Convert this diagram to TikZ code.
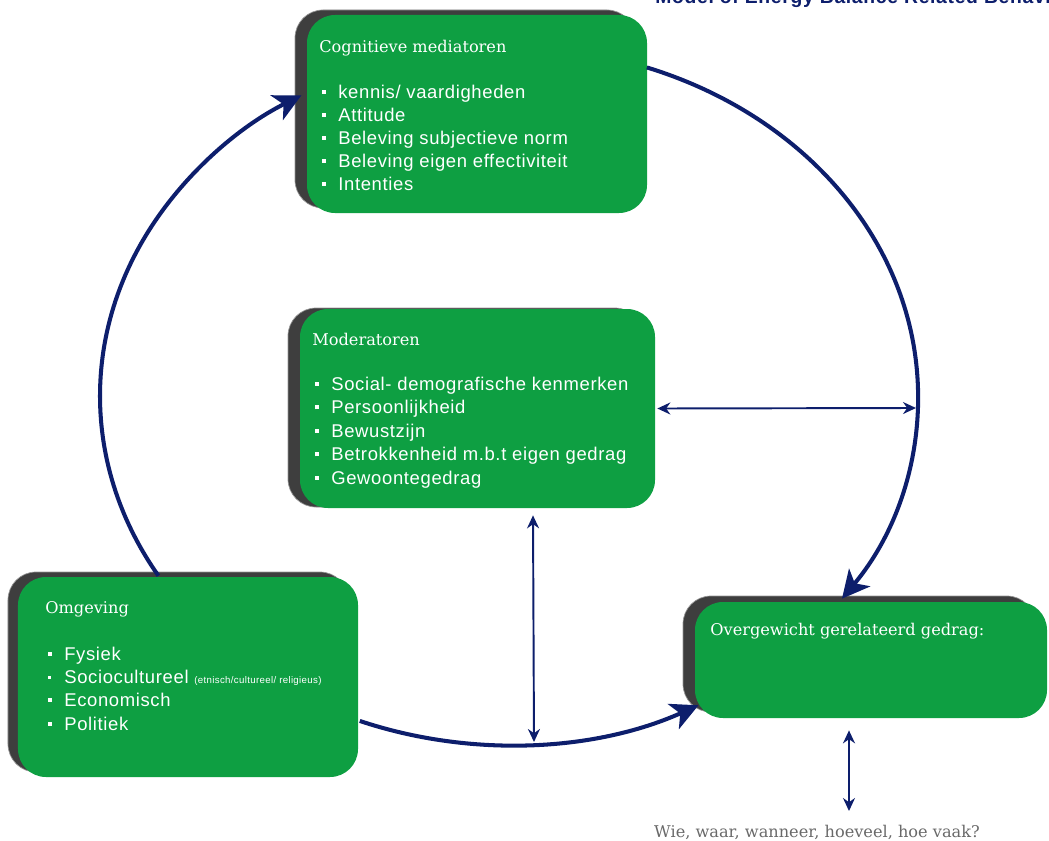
\documentclass[tikz,border=0pt]{standalone}
\usepackage{fontspec}
\setmainfont{DejaVu Serif}
\setsansfont{Liberation Sans}[LetterSpace=3.5]
\usetikzlibrary{arrows.meta}

\definecolor{boxgreen}{RGB}{14,159,66}
\definecolor{shade}{RGB}{62,62,62}
\definecolor{navy}{RGB}{13,30,108}
\definecolor{captiongray}{RGB}{105,105,105}

% small square list marker
\newcommand{\sqmark}{\makebox[9.1pt][l]{\rule[2.4pt]{2.3pt}{2.3pt}}}

\tikzset{
  panel/.style={fill=boxgreen, rounded corners=5.6mm, inner sep=0pt},
  panelshadow/.style={fill=shade, draw=shade!55, line width=0.4pt, rounded corners=5.6mm, inner sep=0pt},
  heading/.style={anchor=base west, inner sep=0pt, text=white, font=\fontsize{9.2}{11}\selectfont},
  item/.style={anchor=base west, inner sep=0pt, text=white, font=\sffamily\fontsize{10.5}{13}\selectfont},
  cycle/.style={draw=navy, line width=2.3pt, -{Stealth[length=5.5mm,width=5.5mm,inset=1.5mm]}},
  link/.style={draw=navy, line width=1.1pt,
    {Stealth[length=2.6mm,width=2.4mm]}-{Stealth[length=2.6mm,width=2.4mm]}},
}

\begin{document}
\begin{tikzpicture}[x=0.2mm, y=-0.2mm]
\useasboundingbox (0,0) rectangle (1049,841);

% heading line, cut by the upper edge
\begin{scope}
  \clip (0,0) rectangle (1049,841);
  \node[anchor=base west, inner sep=0pt, text=navy,
        font=\sffamily\bfseries\fontsize{11}{13}\selectfont] (banner) at (655,3)
        {Model of Energy Balance Related Behavior};
\end{scope}

% panels with their dark backing
\node[panelshadow, minimum width=68mm, minimum height=39.6mm] (cog-bk) at (465,109) {};
\node[panel, minimum width=68mm, minimum height=39.6mm] (cog) at (477,114) {};

\node[panelshadow, minimum width=71mm, minimum height=39.8mm] (mod-bk) at (465.5,407.5) {};
\node[panel, minimum width=71mm, minimum height=39.8mm] (mod) at (477.5,408.5) {};

\node[panelshadow, minimum width=68mm, minimum height=40mm] (omg-bk) at (178,672) {};
\node[panel, minimum width=68mm, minimum height=40mm] (omg) at (188,677) {};

\node[panelshadow, minimum width=70.4mm, minimum height=23.2mm] (beh-bk) at (859,654) {};
\node[panel, minimum width=70.4mm, minimum height=23.2mm] (beh) at (871,660) {};

% Cognitieve mediatoren
\node[heading] (cog-h) at (319,52) {Cognitieve mediatoren};
\node[item] (cog-1) at (322,98)  {\sqmark kennis/ vaardigheden};
\node[item] (cog-2) at (322,121) {\sqmark Attitude};
\node[item] (cog-3) at (322,144) {\sqmark Beleving subjectieve norm};
\node[item] (cog-4) at (322,167) {\sqmark Beleving eigen effectiviteit};
\node[item] (cog-5) at (322,190) {\sqmark Intenties};

% Moderatoren
\node[heading] (mod-h) at (312,345) {Moderatoren};
\node[item] (mod-1) at (315,390)   {\sqmark Social- demografische kenmerken};
\node[item] (mod-2) at (315,413.5) {\sqmark Persoonlijkheid};
\node[item] (mod-3) at (315,437)   {\sqmark Bewustzijn};
\node[item] (mod-4) at (315,460.5) {\sqmark Betrokkenheid m.b.t eigen gedrag};
\node[item] (mod-5) at (315,484)   {\sqmark Gewoontegedrag};

% Omgeving
\node[heading] (omg-h) at (45,613) {Omgeving};
\node[item] (omg-1) at (48,660) {\sqmark Fysiek};
\node[item] (omg-2) at (48,683) {\makebox[9.1pt][l]{\rule[2.4pt]{1.7pt}{1.7pt}}Sociocultureel {\fontsize{5.5}{6}\selectfont (etnisch/cultureel/ religieus)}};
\node[item] (omg-3) at (48,706) {\sqmark Economisch};
\node[item] (omg-4) at (48,730) {\sqmark Politiek};

% Overgewicht gerelateerd gedrag
\node[heading] (beh-h) at (710,635) {Overgewicht gerelateerd gedrag:};

% caption under the behaviour panel
\node[anchor=base, inner sep=0pt, text=captiongray, font=\fontsize{9.2}{11}\selectfont]
  (question) at (817,837) {Wie, waar, wanneer, hoeveel, hoe vaak?};

% points on the ring where the cycle arrows start and stop
\coordinate (ring-omg) at ({509+409*cos(211)},{396-349*sin(211)});
\coordinate (ring-cog) at ({509+409*cos(70.3)},{396-349*sin(70.3)});
\coordinate (ring-omg2) at ({509+409*cos(-111.4)},{396-349*sin(-111.4)});
\coordinate (ring-e) at (916,408);
\coordinate (ring-s) at (534,742);
\coordinate (question-top) at (849,811);

% the cycle
\draw[cycle] (ring-omg) arc[start angle=211, end angle=120.5, x radius=81.8mm, y radius=69.8mm];
\draw[cycle] (ring-cog) arc[start angle=70.3, end angle=-35.5, x radius=81.8mm, y radius=69.8mm];
\draw[cycle] (ring-omg2) arc[start angle=-111.4, end angle=-62.4, x radius=81.8mm, y radius=69.8mm];

% two-way links
\draw[link] ([xshift=0.4mm]mod.east) -- (ring-e);
\draw[link] ([xshift=11.1mm,yshift=-1.4mm]mod.south) -- (ring-s);
\draw[link] ([xshift=-4.4mm,yshift=-2.4mm]beh.south) -- (question-top);
\end{tikzpicture}
\end{document}
